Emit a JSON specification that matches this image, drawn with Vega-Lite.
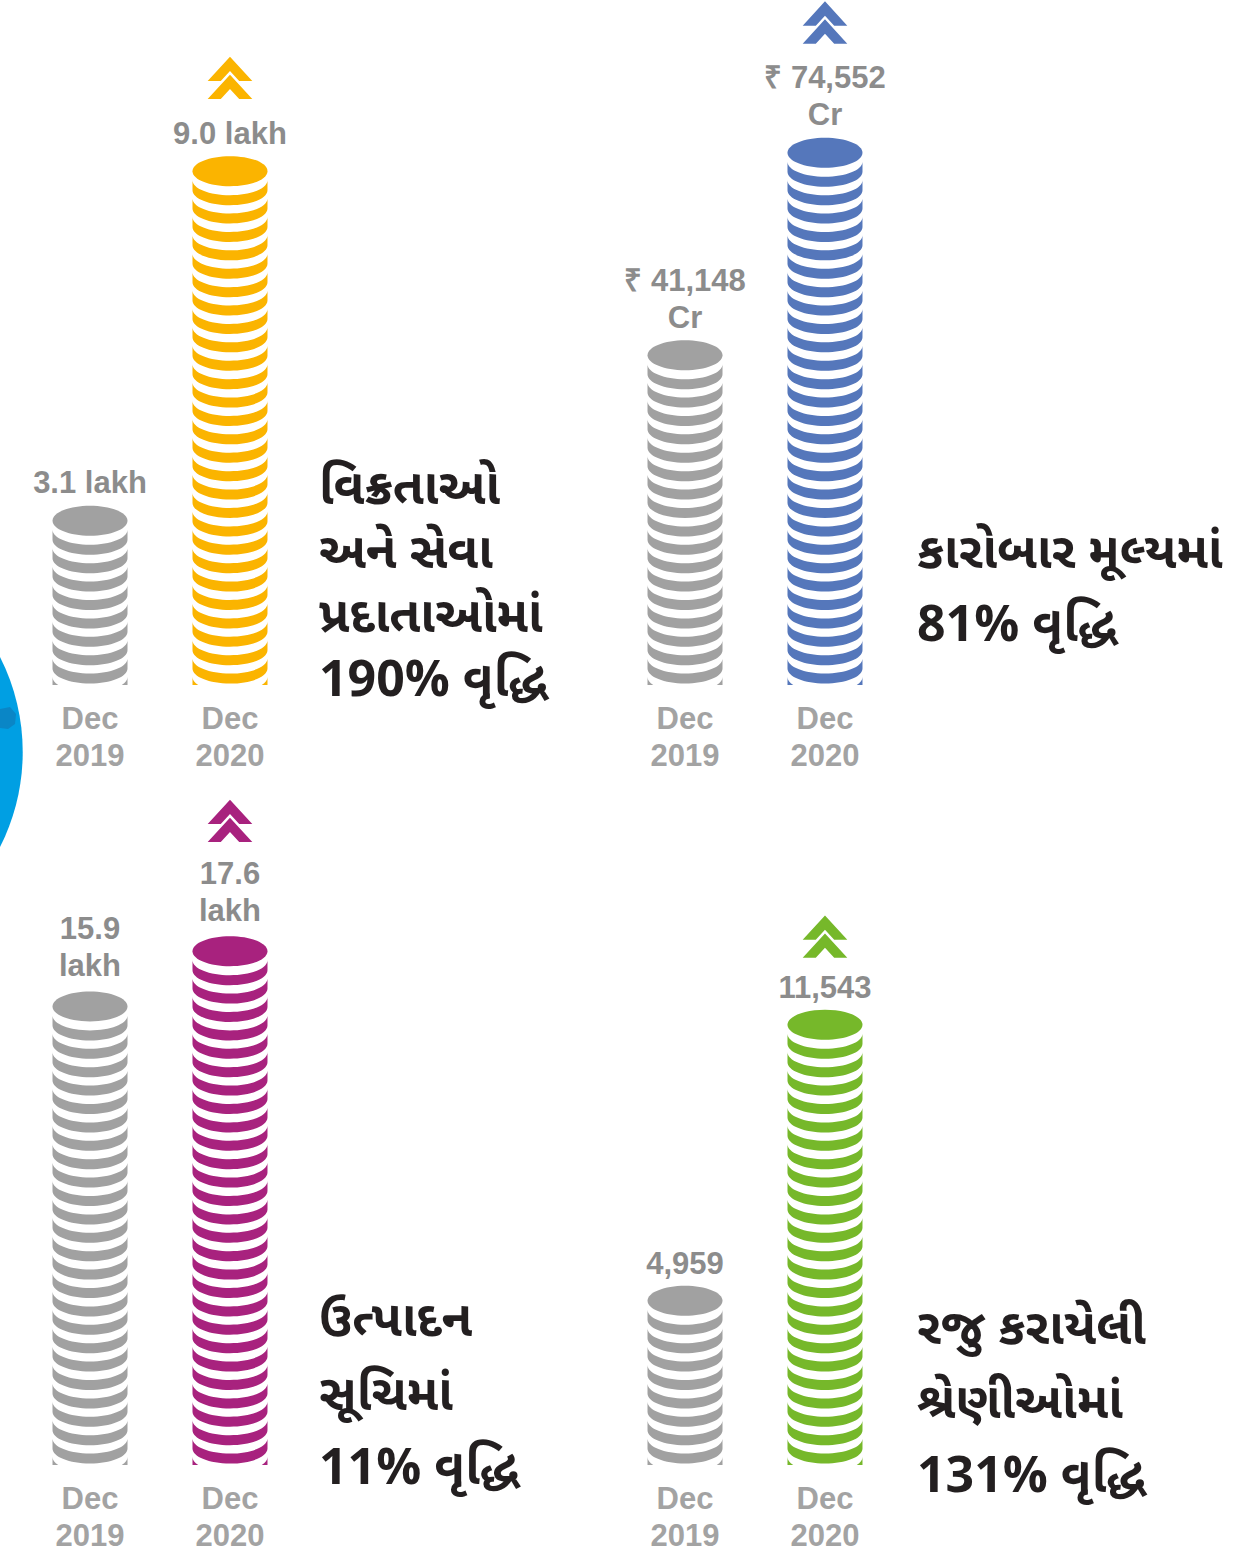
{
  "$schema": "https://vega.github.io/schema/vega-lite/v6.json",
  "padding": 0,
  "background": "white",
  "config": {"view": {"stroke": null}},
  "datasets": {
    "stacks": [
      {"panel": "p1", "period": "Dec 2019", "value": 3.1, "label": ["3.1 lakh"], "n": 9},
      {"panel": "p1", "period": "Dec 2020", "value": 9.0, "label": ["9.0 lakh"], "n": 28},
      {"panel": "p2", "period": "Dec 2019", "value": 41148, "label": ["₹ 41,148", "Cr"], "n": 18},
      {"panel": "p2", "period": "Dec 2020", "value": 74552, "label": ["₹ 74,552", "Cr"], "n": 29},
      {"panel": "p3", "period": "Dec 2019", "value": 15.9, "label": ["15.9", "lakh"], "n": 25},
      {"panel": "p3", "period": "Dec 2020", "value": 17.6, "label": ["17.6", "lakh"], "n": 28},
      {"panel": "p4", "period": "Dec 2019", "value": 4959, "label": ["4,959"], "n": 9},
      {"panel": "p4", "period": "Dec 2020", "value": 11543, "label": ["11,543"], "n": 24}
    ],
    "coins": [
      {"panel":"p1","period":"Dec 2019","coin":0},{"panel":"p1","period":"Dec 2019","coin":1},{"panel":"p1","period":"Dec 2019","coin":2},{"panel":"p1","period":"Dec 2019","coin":3},{"panel":"p1","period":"Dec 2019","coin":4},{"panel":"p1","period":"Dec 2019","coin":5},{"panel":"p1","period":"Dec 2019","coin":6},{"panel":"p1","period":"Dec 2019","coin":7},{"panel":"p1","period":"Dec 2019","coin":8},
      {"panel":"p1","period":"Dec 2020","coin":0},{"panel":"p1","period":"Dec 2020","coin":1},{"panel":"p1","period":"Dec 2020","coin":2},{"panel":"p1","period":"Dec 2020","coin":3},{"panel":"p1","period":"Dec 2020","coin":4},{"panel":"p1","period":"Dec 2020","coin":5},{"panel":"p1","period":"Dec 2020","coin":6},{"panel":"p1","period":"Dec 2020","coin":7},{"panel":"p1","period":"Dec 2020","coin":8},{"panel":"p1","period":"Dec 2020","coin":9},{"panel":"p1","period":"Dec 2020","coin":10},{"panel":"p1","period":"Dec 2020","coin":11},{"panel":"p1","period":"Dec 2020","coin":12},{"panel":"p1","period":"Dec 2020","coin":13},{"panel":"p1","period":"Dec 2020","coin":14},{"panel":"p1","period":"Dec 2020","coin":15},{"panel":"p1","period":"Dec 2020","coin":16},{"panel":"p1","period":"Dec 2020","coin":17},{"panel":"p1","period":"Dec 2020","coin":18},{"panel":"p1","period":"Dec 2020","coin":19},{"panel":"p1","period":"Dec 2020","coin":20},{"panel":"p1","period":"Dec 2020","coin":21},{"panel":"p1","period":"Dec 2020","coin":22},{"panel":"p1","period":"Dec 2020","coin":23},{"panel":"p1","period":"Dec 2020","coin":24},{"panel":"p1","period":"Dec 2020","coin":25},{"panel":"p1","period":"Dec 2020","coin":26},{"panel":"p1","period":"Dec 2020","coin":27},
      {"panel":"p2","period":"Dec 2019","coin":0},{"panel":"p2","period":"Dec 2019","coin":1},{"panel":"p2","period":"Dec 2019","coin":2},{"panel":"p2","period":"Dec 2019","coin":3},{"panel":"p2","period":"Dec 2019","coin":4},{"panel":"p2","period":"Dec 2019","coin":5},{"panel":"p2","period":"Dec 2019","coin":6},{"panel":"p2","period":"Dec 2019","coin":7},{"panel":"p2","period":"Dec 2019","coin":8},{"panel":"p2","period":"Dec 2019","coin":9},{"panel":"p2","period":"Dec 2019","coin":10},{"panel":"p2","period":"Dec 2019","coin":11},{"panel":"p2","period":"Dec 2019","coin":12},{"panel":"p2","period":"Dec 2019","coin":13},{"panel":"p2","period":"Dec 2019","coin":14},{"panel":"p2","period":"Dec 2019","coin":15},{"panel":"p2","period":"Dec 2019","coin":16},{"panel":"p2","period":"Dec 2019","coin":17},
      {"panel":"p2","period":"Dec 2020","coin":0},{"panel":"p2","period":"Dec 2020","coin":1},{"panel":"p2","period":"Dec 2020","coin":2},{"panel":"p2","period":"Dec 2020","coin":3},{"panel":"p2","period":"Dec 2020","coin":4},{"panel":"p2","period":"Dec 2020","coin":5},{"panel":"p2","period":"Dec 2020","coin":6},{"panel":"p2","period":"Dec 2020","coin":7},{"panel":"p2","period":"Dec 2020","coin":8},{"panel":"p2","period":"Dec 2020","coin":9},{"panel":"p2","period":"Dec 2020","coin":10},{"panel":"p2","period":"Dec 2020","coin":11},{"panel":"p2","period":"Dec 2020","coin":12},{"panel":"p2","period":"Dec 2020","coin":13},{"panel":"p2","period":"Dec 2020","coin":14},{"panel":"p2","period":"Dec 2020","coin":15},{"panel":"p2","period":"Dec 2020","coin":16},{"panel":"p2","period":"Dec 2020","coin":17},{"panel":"p2","period":"Dec 2020","coin":18},{"panel":"p2","period":"Dec 2020","coin":19},{"panel":"p2","period":"Dec 2020","coin":20},{"panel":"p2","period":"Dec 2020","coin":21},{"panel":"p2","period":"Dec 2020","coin":22},{"panel":"p2","period":"Dec 2020","coin":23},{"panel":"p2","period":"Dec 2020","coin":24},{"panel":"p2","period":"Dec 2020","coin":25},{"panel":"p2","period":"Dec 2020","coin":26},{"panel":"p2","period":"Dec 2020","coin":27},{"panel":"p2","period":"Dec 2020","coin":28},
      {"panel":"p3","period":"Dec 2019","coin":0},{"panel":"p3","period":"Dec 2019","coin":1},{"panel":"p3","period":"Dec 2019","coin":2},{"panel":"p3","period":"Dec 2019","coin":3},{"panel":"p3","period":"Dec 2019","coin":4},{"panel":"p3","period":"Dec 2019","coin":5},{"panel":"p3","period":"Dec 2019","coin":6},{"panel":"p3","period":"Dec 2019","coin":7},{"panel":"p3","period":"Dec 2019","coin":8},{"panel":"p3","period":"Dec 2019","coin":9},{"panel":"p3","period":"Dec 2019","coin":10},{"panel":"p3","period":"Dec 2019","coin":11},{"panel":"p3","period":"Dec 2019","coin":12},{"panel":"p3","period":"Dec 2019","coin":13},{"panel":"p3","period":"Dec 2019","coin":14},{"panel":"p3","period":"Dec 2019","coin":15},{"panel":"p3","period":"Dec 2019","coin":16},{"panel":"p3","period":"Dec 2019","coin":17},{"panel":"p3","period":"Dec 2019","coin":18},{"panel":"p3","period":"Dec 2019","coin":19},{"panel":"p3","period":"Dec 2019","coin":20},{"panel":"p3","period":"Dec 2019","coin":21},{"panel":"p3","period":"Dec 2019","coin":22},{"panel":"p3","period":"Dec 2019","coin":23},{"panel":"p3","period":"Dec 2019","coin":24},
      {"panel":"p3","period":"Dec 2020","coin":0},{"panel":"p3","period":"Dec 2020","coin":1},{"panel":"p3","period":"Dec 2020","coin":2},{"panel":"p3","period":"Dec 2020","coin":3},{"panel":"p3","period":"Dec 2020","coin":4},{"panel":"p3","period":"Dec 2020","coin":5},{"panel":"p3","period":"Dec 2020","coin":6},{"panel":"p3","period":"Dec 2020","coin":7},{"panel":"p3","period":"Dec 2020","coin":8},{"panel":"p3","period":"Dec 2020","coin":9},{"panel":"p3","period":"Dec 2020","coin":10},{"panel":"p3","period":"Dec 2020","coin":11},{"panel":"p3","period":"Dec 2020","coin":12},{"panel":"p3","period":"Dec 2020","coin":13},{"panel":"p3","period":"Dec 2020","coin":14},{"panel":"p3","period":"Dec 2020","coin":15},{"panel":"p3","period":"Dec 2020","coin":16},{"panel":"p3","period":"Dec 2020","coin":17},{"panel":"p3","period":"Dec 2020","coin":18},{"panel":"p3","period":"Dec 2020","coin":19},{"panel":"p3","period":"Dec 2020","coin":20},{"panel":"p3","period":"Dec 2020","coin":21},{"panel":"p3","period":"Dec 2020","coin":22},{"panel":"p3","period":"Dec 2020","coin":23},{"panel":"p3","period":"Dec 2020","coin":24},{"panel":"p3","period":"Dec 2020","coin":25},{"panel":"p3","period":"Dec 2020","coin":26},{"panel":"p3","period":"Dec 2020","coin":27},
      {"panel":"p4","period":"Dec 2019","coin":0},{"panel":"p4","period":"Dec 2019","coin":1},{"panel":"p4","period":"Dec 2019","coin":2},{"panel":"p4","period":"Dec 2019","coin":3},{"panel":"p4","period":"Dec 2019","coin":4},{"panel":"p4","period":"Dec 2019","coin":5},{"panel":"p4","period":"Dec 2019","coin":6},{"panel":"p4","period":"Dec 2019","coin":7},{"panel":"p4","period":"Dec 2019","coin":8},
      {"panel":"p4","period":"Dec 2020","coin":0},{"panel":"p4","period":"Dec 2020","coin":1},{"panel":"p4","period":"Dec 2020","coin":2},{"panel":"p4","period":"Dec 2020","coin":3},{"panel":"p4","period":"Dec 2020","coin":4},{"panel":"p4","period":"Dec 2020","coin":5},{"panel":"p4","period":"Dec 2020","coin":6},{"panel":"p4","period":"Dec 2020","coin":7},{"panel":"p4","period":"Dec 2020","coin":8},{"panel":"p4","period":"Dec 2020","coin":9},{"panel":"p4","period":"Dec 2020","coin":10},{"panel":"p4","period":"Dec 2020","coin":11},{"panel":"p4","period":"Dec 2020","coin":12},{"panel":"p4","period":"Dec 2020","coin":13},{"panel":"p4","period":"Dec 2020","coin":14},{"panel":"p4","period":"Dec 2020","coin":15},{"panel":"p4","period":"Dec 2020","coin":16},{"panel":"p4","period":"Dec 2020","coin":17},{"panel":"p4","period":"Dec 2020","coin":18},{"panel":"p4","period":"Dec 2020","coin":19},{"panel":"p4","period":"Dec 2020","coin":20},{"panel":"p4","period":"Dec 2020","coin":21},{"panel":"p4","period":"Dec 2020","coin":22},{"panel":"p4","period":"Dec 2020","coin":23}
    ],
    "notes": [
      {"panel": "p1", "text": ["વિક્રતાઓ", "અને સેવા", "પ્રદાતાઓમાં", "190% વૃદ્ધિ"]},
      {"panel": "p2", "text": ["કારોબાર મૂલ્યમાં", "81% વૃદ્ધિ"]},
      {"panel": "p3", "text": ["ઉત્પાદન", "સૂચિમાં", "11% વૃદ્ધિ"]},
      {"panel": "p4", "text": ["રજુ કરાયેલી", "શ્રેણીઓમાં", "131% વૃદ્ધિ"]}
    ]
  },
  "concat": [
    {
      "width": 320, "height": 685,
      "layer": [
        {
          "data": {"name": "notes"},
          "transform": [{"filter": "datum.panel == 'p1'"}],
          "mark": {"type": "point", "shape": "M-90,-95A210,210,0,0,1,-90,95Z", "size": 4, "filled": true, "opacity": 1, "strokeWidth": 0, "color": "#009fe3"},
          "encoding": {"x": {"datum": "Dec 2019", "type": "nominal", "axis": null}, "y": {"datum": -4.08, "type": "quantitative", "axis": null}}
        },
        {
          "data": {"name": "notes"},
          "transform": [{"filter": "datum.panel == 'p1'"}],
          "mark": {"type": "point", "shape": "M-90,-43L-80,-45L-74,-38L-75,-28L-82,-23L-90,-24Z", "size": 4, "filled": true, "opacity": 1, "strokeWidth": 0, "color": "#0a86c6"},
          "encoding": {"x": {"datum": "Dec 2019", "type": "nominal", "axis": null}, "y": {"datum": -4.08, "type": "quantitative", "axis": null}}
        },
        {
          "data": {"name": "coins"},
          "transform": [{"filter": "datum.panel == 'p1'"}],
          "mark": {"type": "point", "shape": "M-37.5,0C-37.5,8.3,-20.7,15,0,15C20.7,15,37.5,8.3,37.5,0L37.5,10C37.5,18.3,20.7,25,0,25C-20.7,25,-37.5,18.3,-37.5,10Z", "size": 4, "filled": true, "opacity": 1, "strokeWidth": 0, "clip": true},
          "encoding": {
            "x": {"field": "period", "type": "nominal", "scale": {"type": "point", "domain": ["Dec 2019", "Dec 2020"], "padding": 0.643}, "axis": null},
            "y": {"field": "coin", "type": "quantitative", "scale": {"domain": [-0.435, 36.79], "nice": false, "zero": false}, "axis": null},
            "color": {"field": "period", "type": "nominal", "scale": {"domain": ["Dec 2019", "Dec 2020"], "range": ["#a1a1a1", "#fbb400"]}, "legend": null}
          }
        },
        {
          "data": {"name": "stacks"},
          "transform": [{"filter": "datum.panel == 'p1'"}],
          "mark": {"type": "point", "shape": "M-37.5,9.4C-37.5,1.1,-20.7,-5.6,0,-5.6C20.7,-5.6,37.5,1.1,37.5,9.4C37.5,17.7,20.7,24.4,0,24.4C-20.7,24.4,-37.5,17.7,-37.5,9.4Z", "size": 4, "filled": true, "opacity": 1, "strokeWidth": 0},
          "encoding": {
            "x": {"field": "period", "type": "nominal", "axis": null},
            "y": {"field": "n", "type": "quantitative", "axis": null},
            "color": {"field": "period", "type": "nominal", "legend": null}
          }
        },
        {
          "data": {"name": "stacks"},
          "transform": [{"filter": "datum.panel == 'p1'"}],
          "mark": {"type": "text", "font": "Liberation Sans", "fontSize": 31, "fontWeight": "bold", "color": "#8c8c8c", "baseline": "alphabetic", "align": "center", "lineHeight": 37, "dy": -18},
          "encoding": {
            "x": {"field": "period", "type": "nominal", "axis": null},
            "y": {"field": "n", "type": "quantitative", "axis": null},
            "text": {"field": "label", "type": "nominal"}
          }
        },
        {
          "data": {"name": "stacks"},
          "transform": [{"filter": "datum.panel == 'p1'"}],
          "mark": {"type": "text", "font": "Liberation Sans", "fontSize": 31, "fontWeight": "bold", "color": "#a3a3a3", "baseline": "alphabetic", "align": "center", "lineHeight": 37, "lineBreak": " ", "dy": 52},
          "encoding": {
            "x": {"field": "period", "type": "nominal", "axis": null},
            "y": {"datum": 0, "type": "quantitative", "axis": null},
            "text": {"field": "period", "type": "nominal"}
          }
        },
        {
          "data": {"name": "stacks"},
          "transform": [{"filter": "datum.panel == 'p1' && datum.period == 'Dec 2020'"}],
          "mark": {"type": "point", "shape": "M0,-105L22.3,-80.7L9.2,-80.7L0,-90.7L-9.2,-80.7L-22.3,-80.7ZM0,-87L22.3,-62.7L9.2,-62.7L0,-72.7L-9.2,-62.7L-22.3,-62.7Z", "size": 4, "filled": true, "opacity": 1, "strokeWidth": 0},
          "encoding": {
            "x": {"field": "period", "type": "nominal", "axis": null},
            "y": {"field": "n", "type": "quantitative", "axis": null},
            "color": {"field": "period", "type": "nominal", "legend": null}
          }
        },
        {
          "data": {"name": "notes"},
          "transform": [{"filter": "datum.panel == 'p1'"}],
          "mark": {"type": "text", "font": "Noto Sans Gujarati", "fontSize": 50, "fontWeight": "bold", "color": "#231f20", "baseline": "alphabetic", "align": "left", "lineHeight": 64, "dx": 89, "dy": -173},
          "encoding": {"x": {"datum": "Dec 2020", "type": "nominal", "axis": null}, "y": {"datum": 0, "type": "quantitative", "axis": null}, "text": {"field": "text", "type": "nominal"}}
        }
      ]
    },
    {
      "width": 320, "height": 685,
      "layer": [
        {
          "data": {"name": "coins"},
          "transform": [{"filter": "datum.panel == 'p2'"}],
          "mark": {"type": "point", "shape": "M-37.5,0C-37.5,8.3,-20.7,15,0,15C20.7,15,37.5,8.3,37.5,0L37.5,10C37.5,18.3,20.7,25,0,25C-20.7,25,-37.5,18.3,-37.5,10Z", "size": 4, "filled": true, "opacity": 1, "strokeWidth": 0, "clip": true},
          "encoding": {
            "x": {"field": "period", "type": "nominal", "scale": {"type": "point", "domain": ["Dec 2019", "Dec 2020"], "padding": 0.643}, "axis": null},
            "y": {"field": "coin", "type": "quantitative", "scale": {"domain": [-0.435, 36.79], "nice": false, "zero": false}, "axis": null},
            "color": {"field": "period", "type": "nominal", "scale": {"domain": ["Dec 2019", "Dec 2020"], "range": ["#a1a1a1", "#5577bb"]}, "legend": null}
          }
        },
        {
          "data": {"name": "stacks"},
          "transform": [{"filter": "datum.panel == 'p2'"}],
          "mark": {"type": "point", "shape": "M-37.5,9.4C-37.5,1.1,-20.7,-5.6,0,-5.6C20.7,-5.6,37.5,1.1,37.5,9.4C37.5,17.7,20.7,24.4,0,24.4C-20.7,24.4,-37.5,17.7,-37.5,9.4Z", "size": 4, "filled": true, "opacity": 1, "strokeWidth": 0},
          "encoding": {
            "x": {"field": "period", "type": "nominal", "axis": null},
            "y": {"field": "n", "type": "quantitative", "axis": null},
            "color": {"field": "period", "type": "nominal", "legend": null}
          }
        },
        {
          "data": {"name": "stacks"},
          "transform": [{"filter": "datum.panel == 'p2'"}],
          "mark": {"type": "text", "font": "Liberation Sans", "fontSize": 31, "fontWeight": "bold", "color": "#8c8c8c", "baseline": "alphabetic", "align": "center", "lineHeight": 37, "dy": -55},
          "encoding": {
            "x": {"field": "period", "type": "nominal", "axis": null},
            "y": {"field": "n", "type": "quantitative", "axis": null},
            "text": {"field": "label", "type": "nominal"}
          }
        },
        {
          "data": {"name": "stacks"},
          "transform": [{"filter": "datum.panel == 'p2'"}],
          "mark": {"type": "text", "font": "Liberation Sans", "fontSize": 31, "fontWeight": "bold", "color": "#a3a3a3", "baseline": "alphabetic", "align": "center", "lineHeight": 37, "lineBreak": " ", "dy": 52},
          "encoding": {
            "x": {"field": "period", "type": "nominal", "axis": null},
            "y": {"datum": 0, "type": "quantitative", "axis": null},
            "text": {"field": "period", "type": "nominal"}
          }
        },
        {
          "data": {"name": "stacks"},
          "transform": [{"filter": "datum.panel == 'p2' && datum.period == 'Dec 2020'"}],
          "mark": {"type": "point", "shape": "M0,-142L22.3,-117.7L9.2,-117.7L0,-127.7L-9.2,-117.7L-22.3,-117.7ZM0,-124L22.3,-99.7L9.2,-99.7L0,-109.7L-9.2,-99.7L-22.3,-99.7Z", "size": 4, "filled": true, "opacity": 1, "strokeWidth": 0},
          "encoding": {
            "x": {"field": "period", "type": "nominal", "axis": null},
            "y": {"field": "n", "type": "quantitative", "axis": null},
            "color": {"field": "period", "type": "nominal", "legend": null}
          }
        },
        {
          "data": {"name": "notes"},
          "transform": [{"filter": "datum.panel == 'p2'"}],
          "mark": {"type": "text", "font": "Noto Sans Gujarati", "fontSize": 50, "fontWeight": "bold", "color": "#231f20", "baseline": "alphabetic", "align": "left", "lineHeight": 73, "dx": 92, "dy": -109},
          "encoding": {"x": {"datum": "Dec 2020", "type": "nominal", "axis": null}, "y": {"datum": 0, "type": "quantitative", "axis": null}, "text": {"field": "text", "type": "nominal"}}
        }
      ]
    },
    {
      "width": 320, "height": 780,
      "layer": [
        {
          "data": {"name": "coins"},
          "transform": [{"filter": "datum.panel == 'p3'"}],
          "mark": {"type": "point", "shape": "M-37.5,0C-37.5,8.3,-20.7,15,0,15C20.7,15,37.5,8.3,37.5,0L37.5,10C37.5,18.3,20.7,25,0,25C-20.7,25,-37.5,18.3,-37.5,10Z", "size": 4, "filled": true, "opacity": 1, "strokeWidth": 0, "clip": true},
          "encoding": {
            "x": {"field": "period", "type": "nominal", "scale": {"type": "point", "domain": ["Dec 2019", "Dec 2020"], "padding": 0.643}, "axis": null},
            "y": {"field": "coin", "type": "quantitative", "scale": {"domain": [-0.435, 41.957], "nice": false, "zero": false}, "axis": null},
            "color": {"field": "period", "type": "nominal", "scale": {"domain": ["Dec 2019", "Dec 2020"], "range": ["#a1a1a1", "#a8227e"]}, "legend": null}
          }
        },
        {
          "data": {"name": "stacks"},
          "transform": [{"filter": "datum.panel == 'p3'"}],
          "mark": {"type": "point", "shape": "M-37.5,9.4C-37.5,1.1,-20.7,-5.6,0,-5.6C20.7,-5.6,37.5,1.1,37.5,9.4C37.5,17.7,20.7,24.4,0,24.4C-20.7,24.4,-37.5,17.7,-37.5,9.4Z", "size": 4, "filled": true, "opacity": 1, "strokeWidth": 0},
          "encoding": {
            "x": {"field": "period", "type": "nominal", "axis": null},
            "y": {"field": "n", "type": "quantitative", "axis": null},
            "color": {"field": "period", "type": "nominal", "legend": null}
          }
        },
        {
          "data": {"name": "stacks"},
          "transform": [{"filter": "datum.panel == 'p3'"}],
          "mark": {"type": "text", "font": "Liberation Sans", "fontSize": 31, "fontWeight": "bold", "color": "#8c8c8c", "baseline": "alphabetic", "align": "center", "lineHeight": 37, "dy": -58},
          "encoding": {
            "x": {"field": "period", "type": "nominal", "axis": null},
            "y": {"field": "n", "type": "quantitative", "axis": null},
            "text": {"field": "label", "type": "nominal"}
          }
        },
        {
          "data": {"name": "stacks"},
          "transform": [{"filter": "datum.panel == 'p3'"}],
          "mark": {"type": "text", "font": "Liberation Sans", "fontSize": 31, "fontWeight": "bold", "color": "#a3a3a3", "baseline": "alphabetic", "align": "center", "lineHeight": 37, "lineBreak": " ", "dy": 52},
          "encoding": {
            "x": {"field": "period", "type": "nominal", "axis": null},
            "y": {"datum": 0, "type": "quantitative", "axis": null},
            "text": {"field": "period", "type": "nominal"}
          }
        },
        {
          "data": {"name": "stacks"},
          "transform": [{"filter": "datum.panel == 'p3' && datum.period == 'Dec 2020'"}],
          "mark": {"type": "point", "shape": "M0,-142L22.3,-117.7L9.2,-117.7L0,-127.7L-9.2,-117.7L-22.3,-117.7ZM0,-124L22.3,-99.7L9.2,-99.7L0,-109.7L-9.2,-99.7L-22.3,-99.7Z", "size": 4, "filled": true, "opacity": 1, "strokeWidth": 0},
          "encoding": {
            "x": {"field": "period", "type": "nominal", "axis": null},
            "y": {"field": "n", "type": "quantitative", "axis": null},
            "color": {"field": "period", "type": "nominal", "legend": null}
          }
        },
        {
          "data": {"name": "notes"},
          "transform": [{"filter": "datum.panel == 'p3'"}],
          "mark": {"type": "text", "font": "Noto Sans Gujarati", "fontSize": 50, "fontWeight": "bold", "color": "#231f20", "baseline": "alphabetic", "align": "left", "lineHeight": 74, "dx": 89, "dy": -121},
          "encoding": {"x": {"datum": "Dec 2020", "type": "nominal", "axis": null}, "y": {"datum": 0, "type": "quantitative", "axis": null}, "text": {"field": "text", "type": "nominal"}}
        }
      ]
    },
    {
      "width": 320, "height": 780,
      "layer": [
        {
          "data": {"name": "coins"},
          "transform": [{"filter": "datum.panel == 'p4'"}],
          "mark": {"type": "point", "shape": "M-37.5,0C-37.5,8.3,-20.7,15,0,15C20.7,15,37.5,8.3,37.5,0L37.5,10C37.5,18.3,20.7,25,0,25C-20.7,25,-37.5,18.3,-37.5,10Z", "size": 4, "filled": true, "opacity": 1, "strokeWidth": 0, "clip": true},
          "encoding": {
            "x": {"field": "period", "type": "nominal", "scale": {"type": "point", "domain": ["Dec 2019", "Dec 2020"], "padding": 0.643}, "axis": null},
            "y": {"field": "coin", "type": "quantitative", "scale": {"domain": [-0.435, 41.957], "nice": false, "zero": false}, "axis": null},
            "color": {"field": "period", "type": "nominal", "scale": {"domain": ["Dec 2019", "Dec 2020"], "range": ["#a1a1a1", "#76b82a"]}, "legend": null}
          }
        },
        {
          "data": {"name": "stacks"},
          "transform": [{"filter": "datum.panel == 'p4'"}],
          "mark": {"type": "point", "shape": "M-37.5,9.4C-37.5,1.1,-20.7,-5.6,0,-5.6C20.7,-5.6,37.5,1.1,37.5,9.4C37.5,17.7,20.7,24.4,0,24.4C-20.7,24.4,-37.5,17.7,-37.5,9.4Z", "size": 4, "filled": true, "opacity": 1, "strokeWidth": 0},
          "encoding": {
            "x": {"field": "period", "type": "nominal", "axis": null},
            "y": {"field": "n", "type": "quantitative", "axis": null},
            "color": {"field": "period", "type": "nominal", "legend": null}
          }
        },
        {
          "data": {"name": "stacks"},
          "transform": [{"filter": "datum.panel == 'p4'"}],
          "mark": {"type": "text", "font": "Liberation Sans", "fontSize": 31, "fontWeight": "bold", "color": "#8c8c8c", "baseline": "alphabetic", "align": "center", "lineHeight": 37, "dy": -17},
          "encoding": {
            "x": {"field": "period", "type": "nominal", "axis": null},
            "y": {"field": "n", "type": "quantitative", "axis": null},
            "text": {"field": "label", "type": "nominal"}
          }
        },
        {
          "data": {"name": "stacks"},
          "transform": [{"filter": "datum.panel == 'p4'"}],
          "mark": {"type": "text", "font": "Liberation Sans", "fontSize": 31, "fontWeight": "bold", "color": "#a3a3a3", "baseline": "alphabetic", "align": "center", "lineHeight": 37, "lineBreak": " ", "dy": 52},
          "encoding": {
            "x": {"field": "period", "type": "nominal", "axis": null},
            "y": {"datum": 0, "type": "quantitative", "axis": null},
            "text": {"field": "period", "type": "nominal"}
          }
        },
        {
          "data": {"name": "stacks"},
          "transform": [{"filter": "datum.panel == 'p4' && datum.period == 'Dec 2020'"}],
          "mark": {"type": "point", "shape": "M0,-100L22.3,-75.7L9.2,-75.7L0,-85.7L-9.2,-75.7L-22.3,-75.7ZM0,-82L22.3,-57.7L9.2,-57.7L0,-67.7L-9.2,-57.7L-22.3,-57.7Z", "size": 4, "filled": true, "opacity": 1, "strokeWidth": 0},
          "encoding": {
            "x": {"field": "period", "type": "nominal", "axis": null},
            "y": {"field": "n", "type": "quantitative", "axis": null},
            "color": {"field": "period", "type": "nominal", "legend": null}
          }
        },
        {
          "data": {"name": "notes"},
          "transform": [{"filter": "datum.panel == 'p4'"}],
          "mark": {"type": "text", "font": "Noto Sans Gujarati", "fontSize": 50, "fontWeight": "bold", "color": "#231f20", "baseline": "alphabetic", "align": "left", "lineHeight": 74, "dx": 92, "dy": -113},
          "encoding": {"x": {"datum": "Dec 2020", "type": "nominal", "axis": null}, "y": {"datum": 0, "type": "quantitative", "axis": null}, "text": {"field": "text", "type": "nominal"}}
        }
      ]
    }
  ],
  "columns": 2,
  "spacing": {"row": 0, "column": 275},
  "bounds": "flush",
  "resolve": {"scale": {"color": "independent"}}
}
